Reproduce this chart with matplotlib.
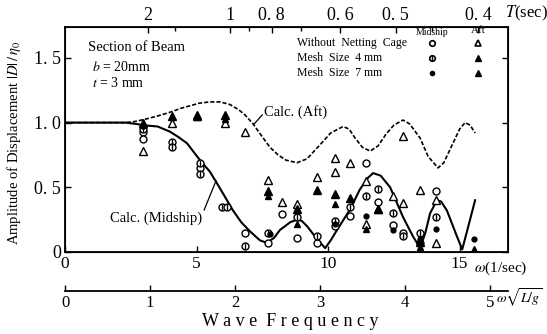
import numpy as np
import matplotlib
matplotlib.use('Agg')
import matplotlib.pyplot as plt

plt.rcParams['font.family'] = ['Liberation Serif', 'DejaVu Serif']
plt.rcParams['mathtext.fontset'] = 'stix'

# calculated curves (omega in 1/sec)
aft_w = [0, 2.3, 2.7, 3.12, 3.5, 3.99, 4.4, 4.75, 5.1, 5.5, 5.9, 6.27, 6.6, 6.84, 7.15, 7.5,
         7.79, 8.1, 8.4, 8.82, 9.2, 9.7, 10.1, 10.57, 10.8, 11.03, 11.3, 11.6, 11.9, 12.2,
         12.5, 12.85, 13.1, 13.5, 13.8, 14.18, 14.4, 14.7, 15.0, 15.21, 15.4, 15.59]
aft_y = [1.0, 1.0, 1.01, 1.03, 1.05, 1.08, 1.11, 1.13, 1.15, 1.16, 1.16, 1.14, 1.10, 1.06, 0.99, 0.89,
         0.81, 0.75, 0.71, 0.69, 0.72, 0.83, 0.92, 0.97, 0.95, 0.88, 0.81, 0.78, 0.82, 0.91,
         0.98, 1.02, 0.99, 0.88, 0.74, 0.65, 0.69, 0.82, 0.95, 1.00, 0.98, 0.92]

mid_w = [0, 2.3, 2.7, 2.97, 3.52, 3.99, 4.3, 4.64, 5.13, 5.51, 5.78, 6.1, 6.39, 6.7, 7.03, 7.41,
         7.68, 7.95, 8.17, 8.56, 8.82, 9.0, 9.2, 9.58, 9.89, 10.1, 10.34, 10.84, 11.2, 11.5,
         11.71, 12.0, 12.36, 12.85, 13.23, 13.5, 13.7, 13.88, 14.14, 14.3, 14.52, 14.9, 15.1,
         15.32, 15.59]
mid_y = [1.0, 1.0, 0.99, 0.98, 0.97, 0.93, 0.89, 0.84, 0.71, 0.62, 0.53, 0.42, 0.32, 0.23, 0.16, 0.09,
         0.07, 0.11, 0.17, 0.23, 0.25, 0.24, 0.20, 0.10, 0.03, 0.09, 0.17, 0.33, 0.48, 0.57,
         0.61, 0.59, 0.50, 0.27, 0.12, 0.03, 0.15, 0.30, 0.40, 0.39, 0.32, 0.12, 0.02,
         0.19, 0.40]

# measured: midship
mid_o_w = [2.97, 2.97, 5.13, 6.84, 7.72, 8.25, 8.82, 9.58, 10.27, 10.84, 11.44, 11.90, 12.47, 12.85, 13.50, 14.11]
mid_o_y = [0.93, 0.87, 0.65, 0.15, 0.07, 0.29, 0.11, 0.07, 0.20, 0.28, 0.69, 0.39, 0.21, 0.15, 0.07, 0.47]
mid_4_w = [2.97, 4.07, 4.07, 5.13, 5.13, 5.97, 6.16, 6.84, 7.72, 8.82, 9.58, 10.27, 10.84, 11.44, 11.90, 12.47, 12.85, 13.50, 14.11]
mid_4_y = [0.95, 0.85, 0.81, 0.69, 0.60, 0.35, 0.35, 0.05, 0.15, 0.27, 0.12, 0.24, 0.35, 0.43, 0.49, 0.30, 0.12, 0.15, 0.27]
mid_7_w = [2.97, 7.80, 10.27, 11.44, 12.47, 13.50, 14.11, 15.55]
mid_7_y = [0.97, 0.14, 0.22, 0.28, 0.17, 0.10, 0.18, 0.10]

# measured: aft
aft_o_w = [2.97, 4.07, 5.02, 6.08, 6.84, 7.72, 8.25, 8.82, 9.58, 10.27, 10.27, 10.84, 11.44, 11.44,
           11.90, 12.47, 12.85, 12.85, 13.50, 14.11, 14.11]
aft_o_y = [0.78, 1.00, 1.05, 1.00, 0.93, 0.56, 0.39, 0.37, 0.58, 0.73, 0.62, 0.69, 0.55, 0.22,
           0.33, 0.43, 0.38, 0.90, 0.48, 0.40, 0.07]
aft_4_w = [2.97, 4.07, 5.02, 6.08, 7.72, 8.82, 9.58, 10.27, 10.84, 11.90, 13.50]
aft_4_y = [1.00, 1.05, 1.06, 1.06, 0.47, 0.33, 0.48, 0.45, 0.42, 0.33, 0.08]
aft_7_w = [2.97, 5.02, 6.08, 7.72, 8.82, 10.27, 11.44, 13.50, 15.55]
aft_7_y = [0.98, 1.04, 1.03, 0.43, 0.22, 0.37, 0.18, 0.04, 0.02]

T_ticks = [2, 1, 0.8, 0.6, 0.5, 0.4]
T_labels = ['2', '1', '0. 8', '0. 6', '0. 5', '0. 4']
T_minor = [1.5, 0.9, 0.7, 0.45]
nd_ticks = [0, 1, 2, 3, 4, 5]
k_nd = 3.23   # omega per unit of omega*sqrt(L/g)

W, H = 547, 334
fig = plt.figure(figsize=(W / 100, H / 100), dpi=100)
ax = fig.add_axes([65 / W, 1 - 252 / H, (508 - 65) / W, (252 - 27) / H])
ax.set_xlim(0, 16.84)
ax.set_ylim(0, 1.739)

for s in ax.spines.values():
    s.set_linewidth(1.3)

ax.plot(aft_w, aft_y, color='black', lw=1.2, ls=(0, (2.5, 1.2)))
ax.plot(mid_w, mid_y, color='black', lw=1.5)

ms = 5
ax.plot(mid_o_w, mid_o_y, 'o', ms=ms, mfc='white', mec='black', mew=1.0)
ax.plot(mid_4_w, mid_4_y, 'o', ms=ms, mfc='white', mec='black', mew=1.0)
ax.plot(mid_4_w, mid_4_y, '|', ms=ms, mec='black', mew=1.0)
ax.plot(mid_7_w, mid_7_y, 'o', ms=3.5, mfc='black', mec='black')
ax.plot(aft_o_w, aft_o_y, '^', ms=5.5, mfc='white', mec='black', mew=1.0)
ax.plot(aft_4_w, aft_4_y, '^', ms=5.5, mfc='black', mec='black')
ax.plot(aft_7_w, aft_7_y, '^', ms=4, mfc='black', mec='black')

ax.set_xticks([0, 5, 10, 15])
ax.set_xticklabels(['0', '5', '10', '15'], fontsize=12.5)
ax.set_yticks([0, 0.5, 1.0, 1.5])
ax.set_yticklabels(['0', '0. 5', '1. 0', '1. 5'], fontsize=13)
ax.tick_params(direction='in', right=True, length=4, width=1, pad=3)

# period axis on top
axt = ax.twiny()
axt.set_xlim(ax.get_xlim())
axt.set_xticks(2 * np.pi / np.array(T_ticks))
axt.set_xticklabels(T_labels, fontsize=13)
axt.set_xticks(2 * np.pi / np.array(T_minor), minor=True)
axt.tick_params(direction='in', length=4, width=1, pad=2)
axt.tick_params(which='minor', direction='in', length=3, width=1)

# non-dimensional frequency axis below
axb = ax.secondary_xaxis(-0.173, functions=(lambda w: w / k_nd, lambda s: s * k_nd))
axb.set_xticks(nd_ticks)
axb.set_xticklabels([str(v) for v in nd_ticks], fontsize=12)
axb.tick_params(direction='in', length=4, width=1, pad=3)
axb.spines['bottom'].set_linewidth(1.3)

def fx(px):
    return px / W

def fy(py):
    return 1 - py / H

fig.text(fx(505), fy(13), '$T$(sec)', fontsize=12, va='center', ha='left')
fig.text(fx(474), fy(268), r'$\omega$(1/sec)', fontsize=11, va='center', ha='left')
fig.text(fx(496), fy(298), r'$\omega\sqrt{L/g}$', fontsize=10, va='center', ha='left')
fig.text(fx(290), fy(321), 'W a v e  F r e q u e n c y', fontsize=13, va='center', ha='center')
fig.text(fx(14), fy(143), r'Amplitude of Displacement $|D|\,/\,\eta_0$', fontsize=10.5,
         rotation=90, va='center', ha='center')

# annotations inside
ax.text(0.87, 1.58, 'Section of Beam', fontsize=10.5, va='center')
ax.text(1.03, 1.43, '$b$ = 20mm', fontsize=10, va='center')
ax.text(1.03, 1.306, '$t$ = 3 mm', fontsize=10, va='center')

ax.text(7.57, 1.08, 'Calc. (Aft)', fontsize=10.5, va='center')
ax.plot([7.5, 7.17], [1.06, 0.985], color='black', lw=0.9)
ax.text(1.71, 0.263, 'Calc. (Midship)', fontsize=10.5, va='center')
ax.plot([5.29, 5.74], [0.325, 0.55], color='black', lw=0.9)

# legend block
rows = [1.615, 1.50, 1.383]
names = ['Without  Netting  Cage', 'Mesh  Size  4 mm', 'Mesh  Size  7 mm']
for r, n in zip(rows, names):
    ax.text(8.82, r, n, fontsize=8.5, va='center')
ax.text(13.95, 1.70, 'Midship', fontsize=7, ha='center', va='center')
ax.text(15.7, 1.71, 'Aft', fontsize=8, ha='center', va='center')
ax.plot(13.95, rows[0], 'o', ms=4, mfc='white', mec='black', mew=1.2)
ax.plot(13.95, rows[1], 'o', ms=4, mfc='white', mec='black', mew=1.2)
ax.plot(13.95, rows[1], '|', ms=4, mec='black', mew=1.0)
ax.plot(13.95, rows[2], 'o', ms=3, mfc='black', mec='black')
ax.plot(15.7, rows[0], '^', ms=4.5, mfc='white', mec='black', mew=1.2)
ax.plot(15.7, rows[1], '^', ms=5, mfc='black', mec='black')
ax.plot(15.7, rows[2], '^', ms=3.8, mfc='black', mec='black')

fig.savefig('out.png', dpi=100)
